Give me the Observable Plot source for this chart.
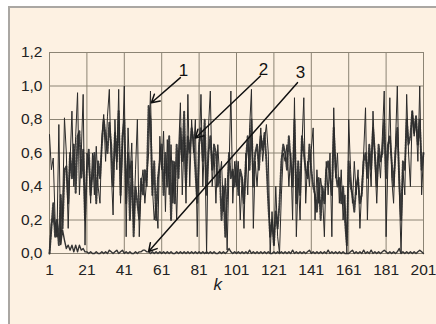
<!DOCTYPE html>
<html><head><meta charset="utf-8">
<script src="https://cdn.jsdelivr.net/npm/d3@7"></script>
<script src="https://cdn.jsdelivr.net/npm/@observablehq/plot@0.6"></script>
<style>
html,body{margin:0;padding:0;background:#fff;}
#wrap{position:relative;width:436px;height:324px;overflow:hidden;background:#fff;}
#panel{position:absolute;left:8px;top:6px;right:0;bottom:0;background:#fdf1e2;border-top:2px solid #aaa7a3;border-left:2px solid #aaa7a3;}
#chart{position:absolute;left:0;top:0;}
</style></head><body><div id="wrap"><div id="panel"></div><div id="chart"></div></div>
<script>
const xTicks = [1, 21, 41, 61, 81, 101, 121, 141, 161, 181, 201];
const yTicks = [0, 0.2, 0.4, 0.6, 0.8, 1.0, 1.2];

const series1 = [
0.71,0.50,0.57,0.20,0.10,0.77,0.05,0.25,0.81,0.60,0.15,0.55,0.85,0.40,0.70,0.96,0.35,0.60,0.95,0.05,
0.60,0.55,0.30,0.60,0.35,0.64,0.40,0.30,0.70,0.83,0.55,0.82,0.98,0.50,0.23,0.80,0.50,0.98,0.30,0.62,
1.00,0.10,0.75,0.45,0.66,0.15,0.50,0.80,0.10,0.40,0.50,0.30,0.45,0.60,0.97,0.40,0.20,0.30,0.15,0.70,
0.50,0.73,0.25,0.68,0.35,0.65,0.30,0.55,0.20,0.60,0.90,0.35,0.70,0.30,0.95,0.40,0.80,0.60,0.80,0.10,
0.60,0.95,0.40,0.70,0.00,0.75,0.97,0.40,0.60,0.30,0.65,0.45,0.55,0.25,0.45,0.02,0.50,0.97,0.30,0.55,
0.40,0.55,0.20,0.45,0.15,0.60,0.35,0.75,0.98,0.15,0.55,0.40,0.60,0.75,0.55,0.68,0.77,0.60,0.00,0.25,
0.05,0.40,0.10,0.00,0.35,0.60,0.55,0.65,0.40,0.60,0.20,0.93,0.10,0.45,0.20,0.65,0.93,0.30,0.55,0.40,
0.62,0.75,0.20,0.50,0.30,0.45,0.35,0.10,0.55,0.35,0.60,0.10,0.87,0.45,0.60,0.30,0.50,0.20,0.35,0.00,
0.80,0.50,0.30,0.55,0.35,0.50,0.15,0.40,0.60,0.87,0.20,0.60,0.40,0.85,0.55,0.30,0.60,0.45,0.70,0.97,
0.10,0.55,0.93,0.45,0.30,0.65,1.00,0.40,0.00,0.50,0.35,0.95,0.60,0.40,0.85,0.70,0.80,0.55,1.00,0.35,0.60
];
const series2 = [
0.00,0.15,0.30,0.10,0.20,0.05,0.35,0.15,0.50,0.52,0.30,0.60,0.45,0.65,0.36,0.70,0.73,0.45,0.62,0.20,
0.50,0.62,0.35,0.48,0.60,0.30,0.55,0.45,0.65,0.80,0.70,0.60,0.78,0.65,0.40,0.72,0.55,0.85,0.35,0.70,
0.80,0.30,0.60,0.20,0.55,0.10,0.40,0.30,0.20,0.45,0.35,0.50,0.40,0.88,0.80,0.35,0.55,0.20,0.45,0.55,
0.65,0.35,0.60,0.40,0.70,0.20,0.55,0.30,0.65,0.45,0.75,0.55,0.85,0.40,0.70,0.60,0.75,0.68,0.50,0.30,
0.65,0.75,0.55,0.80,0.35,0.60,0.70,0.50,0.65,0.60,0.40,0.50,0.20,0.40,0.10,0.35,0.60,0.45,0.50,0.40,
0.55,0.35,0.50,0.45,0.30,0.55,0.70,0.50,0.80,0.40,0.60,0.65,0.50,0.70,0.62,0.72,0.55,0.30,0.10,0.20,
0.05,0.25,0.15,0.30,0.55,0.65,0.60,0.50,0.70,0.55,0.40,0.80,0.30,0.55,0.35,0.70,0.60,0.50,0.45,0.65,
0.50,0.40,0.35,0.25,0.45,0.20,0.40,0.30,0.50,0.55,0.45,0.35,0.75,0.50,0.40,0.45,0.30,0.40,0.20,0.05,
0.55,0.40,0.35,0.25,0.40,0.45,0.30,0.35,0.55,0.60,0.45,0.65,0.50,0.75,0.60,0.40,0.65,0.55,0.60,0.80,
0.45,0.65,0.70,0.55,0.40,0.60,0.75,0.45,0.20,0.55,0.50,0.80,0.65,0.70,0.85,0.72,0.82,0.65,0.80,0.50,0.60
];
const series3 = [
0.00,0.18,0.21,0.15,0.10,0.12,0.06,0.14,0.08,0.03,0.05,0.02,0.05,0.01,0.05,0.01,0.05,0.02,0.03,0.01,
0.01,0.00,0.01,0.00,0.00,0.01,0.00,0.00,0.01,0.00,0.01,0.00,0.02,0.01,0.00,0.01,0.02,0.00,0.01,0.02,
0.00,0.01,0.00,0.01,0.00,0.00,0.01,0.00,0.01,0.01,0.02,0.02,0.01,0.01,0.00,0.01,0.00,0.01,0.00,0.01,
0.00,0.01,0.00,0.01,0.00,0.01,0.00,0.00,0.01,0.00,0.01,0.00,0.01,0.00,0.01,0.00,0.01,0.00,0.01,0.00,
0.01,0.00,0.01,0.00,0.01,0.00,0.01,0.00,0.01,0.00,0.00,0.01,0.00,0.01,0.00,0.01,0.03,0.01,0.00,0.01,
0.00,0.01,0.00,0.01,0.00,0.01,0.00,0.02,0.00,0.01,0.00,0.01,0.00,0.01,0.00,0.01,0.00,0.01,0.00,0.00,
0.01,0.00,0.01,0.00,0.01,0.00,0.01,0.00,0.01,0.00,0.02,0.00,0.01,0.00,0.01,0.00,0.01,0.00,0.01,0.02,
0.00,0.01,0.00,0.01,0.00,0.01,0.00,0.01,0.00,0.02,0.00,0.01,0.00,0.01,0.00,0.01,0.00,0.01,0.00,0.00,
0.00,0.01,0.02,0.00,0.01,0.00,0.01,0.00,0.02,0.00,0.01,0.00,0.02,0.00,0.01,0.00,0.01,0.00,0.01,0.02,
0.01,0.00,0.01,0.00,0.01,0.00,0.01,0.03,0.00,0.01,0.00,0.01,0.00,0.01,0.00,0.01,0.00,0.01,0.02,0.01,0.00
];
const kValues = d3.range(1, series1.length + 1);

// annotations: label, label position, arrow start, arrow end (data coords)
const annoLabels = ["1", "2", "3"];
const annoLabelK = [72.7, 115.4, 135.2];
const annoLabelV = [1.09, 1.10, 1.08];
const arrowK1 = [71, 113.8, 133.6];
const arrowV1 = [1.05, 1.06, 1.02];
const arrowK2 = [55.5, 79, 54];
const arrowV2 = [0.90, 0.69, 0.012];
const axisTitle = "k";
const axisTitleK = 91;

const FONT = '"Liberation Sans Narrow","Arial Narrow","Liberation Sans",Arial,sans-serif';
const fmt = d => d.toFixed(1).replace(".", ",");
const gridColor = "#8c8474";

const arrows = annoLabels.map((l, i) => ({x1: arrowK1[i], y1: arrowV1[i], x2: arrowK2[i], y2: arrowV2[i]}));
const labels = annoLabels.map((l, i) => ({t: l, x: annoLabelK[i], y: annoLabelV[i]}));

const chart = Plot.plot({
  width: 436,
  height: 324,
  marginLeft: 49,
  marginRight: 13,
  marginTop: 52,
  marginBottom: 71,
  style: {background: "transparent", fontFamily: FONT, fontSize: "15px", color: "#222"},
  x: {domain: [1, 201], ticks: xTicks},
  y: {domain: [0, 1.2], ticks: yTicks},
  marks: [
    Plot.gridX(xTicks, {stroke: gridColor, strokeOpacity: 1, strokeWidth: 1}),
    Plot.gridY(yTicks, {stroke: gridColor, strokeOpacity: 1, strokeWidth: 1}),
    Plot.lineY(series2, {x: kValues, y: series2, stroke: "#3c3c3c", strokeWidth: 2, strokeDasharray: "1.6,1.2"}),
    Plot.lineY(series1, {x: kValues, y: series1, stroke: "#2a2a2a", strokeWidth: 1}),
    Plot.lineY(series3, {x: kValues, y: series3, stroke: "#333", strokeWidth: 1.4}),
    Plot.arrow(arrows, {x1: "x1", y1: "y1", x2: "x2", y2: "y2", stroke: "#111", strokeWidth: 1.5, headLength: 9}),
    Plot.text(labels, {x: "x", y: "y", text: "t", fontSize: 17, fill: "#111"}),
    Plot.axisY(yTicks, {tickSize: 0, tickPadding: 7, tickFormat: fmt, label: null, fontSize: 15.5, fill: "#222"}),
    Plot.axisX(xTicks, {tickSize: 0, tickPadding: 10, label: null, fontSize: 15.5, fill: "#222"}),
    Plot.text([axisTitle], {x: [axisTitleK], frameAnchor: "bottom", dy: 36, text: d => d, fontSize: 17, fontStyle: "italic", fill: "#222"})
  ]
});
document.getElementById("chart").appendChild(chart);
</script>
</body></html>
